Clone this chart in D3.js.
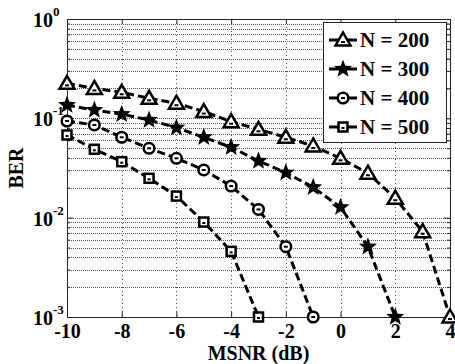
<!DOCTYPE html>
<head>
  <meta charset="utf-8">
  <script src="https://d3js.org/d3.v7.min.js"></script>
  <style>
    body { margin: 0; background: #fff; }
    text { font-family: "Liberation Serif", "Times New Roman", serif; font-weight: bold; fill: #000; }
    .grid { stroke: #555; stroke-width: 1; fill: none; }
    .curve { fill: none; stroke: #000; stroke-width: 3px; stroke-dasharray: 8,4; }
  </style>
</head>
<body>
  <script>
    // data
    var snr = [-10, -9, -8, -7, -6, -5, -4, -3, -2, -1, 0, 1, 2, 3, 4];
    var ber200 = [0.225, 0.200, 0.183, 0.159, 0.142, 0.117, 0.0925, 0.0776, 0.0645, 0.0527, 0.0396, 0.028, 0.0157, 0.00722, 0.001];
    var ber300 = [0.136, 0.121, 0.110, 0.0962, 0.0805, 0.0645, 0.0511, 0.0372, 0.0284, 0.0202, 0.0127, 0.0051, 0.001];
    var ber400 = [0.094, 0.0857, 0.0645, 0.0499, 0.0396, 0.0302, 0.0208, 0.0121, 0.0051, 0.001];
    var ber500 = [0.068, 0.0488, 0.0366, 0.0249, 0.0165, 0.00904, 0.00458, 0.001];
    var seriesNames = ["N = 200", "N = 300", "N = 400", "N = 500"];
    var markers = ["triangle", "star", "circle", "square"];
    var xTicks = [-10, -8, -6, -4, -2, 0, 2, 4];
    var yDecades = [-3, -2, -1, 0];

    var W = 455, H = 364;
    var mLeft = 67, mRight = 450, mTop = 19, mBottom = 317;

    var svg = d3.select("body").append("svg")
      .attr("width", W)
      .attr("height", H);

    var x = d3.scaleLinear().domain([-10, 4]).range([mLeft, mRight]);
    var y = d3.scaleLog().domain([1e-3, 1]).range([mBottom, mTop]);

    // minor values 2..9 per decade
    var minor = [];
    yDecades.slice(0, 3).forEach(function(e) {
      for (var k = 2; k <= 9; k++) minor.push(k * Math.pow(10, e));
    });
    var major = yDecades.map(function(e) { return Math.pow(10, e); });

    // grid
    var grid = svg.append("g");
    grid.selectAll(".hg").data(minor.concat(major.slice(1, 3))).enter().append("line")
      .attr("class", "grid")
      .attr("x1", mLeft).attr("x2", mRight)
      .attr("y1", function(d) { return Math.round(y(d)) + 0.5; })
      .attr("y2", function(d) { return Math.round(y(d)) + 0.5; })
      .style("stroke-dasharray", "1,1");
    grid.selectAll(".vg").data(xTicks.slice(1, -1)).enter().append("line")
      .attr("class", "grid")
      .attr("y1", mTop).attr("y2", mBottom)
      .attr("x1", function(d) { return Math.round(x(d)) + 0.5; })
      .attr("x2", function(d) { return Math.round(x(d)) + 0.5; })
      .style("stroke-dasharray", "1,3");

    // axes with inward ticks
    var xAxis = svg.append("g")
      .attr("transform", "translate(0," + mBottom + ")")
      .call(d3.axisBottom(x).tickValues(xTicks).tickSize(-5).tickPadding(7));
    xAxis.selectAll("text").style("font-size", "20px").text(function(d) { return d < 0 ? "-" + (-d) : d; });
    svg.append("g")
      .attr("transform", "translate(0," + mTop + ")")
      .call(d3.axisTop(x).tickValues(xTicks).tickSize(-5).tickFormat(""));

    svg.append("g")
      .attr("transform", "translate(" + mLeft + ",0)")
      .call(d3.axisLeft(y).tickValues(major).tickSize(-6).tickFormat(""));
    svg.append("g")
      .attr("transform", "translate(" + mLeft + ",0)")
      .call(d3.axisLeft(y).tickValues(minor).tickSize(-3).tickFormat(""));
    svg.append("g")
      .attr("transform", "translate(" + mRight + ",0)")
      .call(d3.axisRight(y).tickValues(major).tickSize(-6).tickFormat(""));
    svg.append("g")
      .attr("transform", "translate(" + mRight + ",0)")
      .call(d3.axisRight(y).tickValues(minor).tickSize(-3).tickFormat(""));
    svg.selectAll(".domain").attr("stroke", "#222");
    svg.selectAll(".tick line").attr("stroke", "#222");

    // y tick labels 10^k
    svg.selectAll(".ylab").data(yDecades).enter().append("text")
      .attr("class", "ylab")
      .attr("x", 53)
      .attr("y", function(d) { return y(Math.pow(10, d)) + 8; })
      .attr("text-anchor", "end")
      .style("font-size", "20px")
      .text("10");
    svg.selectAll(".ysup").data(yDecades).enter().append("text")
      .attr("class", "ysup")
      .attr("x", 53)
      .attr("y", function(d) { return y(Math.pow(10, d)) - 3; })
      .style("font-size", "13px")
      .text(function(d) { return d === 0 ? "0" : "-" + (-d); });

    // axis titles
    svg.append("text")
      .attr("x", (mLeft + mRight) / 2)
      .attr("y", 360)
      .attr("text-anchor", "middle")
      .style("font-size", "20px")
      .text("MSNR (dB)");
    svg.append("text")
      .attr("transform", "translate(23," + (mTop + mBottom) / 2 + ") rotate(-90)")
      .attr("text-anchor", "middle")
      .style("font-size", "20px")
      .text("BER");

    // markers
    function starPath(r1, r2) {
      var p = [];
      for (var i = 0; i < 10; i++) {
        var a = -Math.PI / 2 + i * Math.PI / 5;
        var r = i % 2 ? r2 : r1;
        p.push([r * Math.cos(a), r * Math.sin(a)]);
      }
      return "M" + p.join("L") + "Z";
    }
    function drawMarker(g, type) {
      if (type === "triangle") {
        g.append("path").attr("d", "M0,-7.5L7.5,5.5L-7.5,5.5Z")
          .attr("fill", "#fff").attr("stroke", "#000").attr("stroke-width", 2.5);
        g.append("line").attr("x1", -2).attr("x2", 2).attr("y1", 2).attr("y2", 2)
          .attr("stroke", "#000").attr("stroke-width", 2);
      } else if (type === "star") {
        g.append("path").attr("d", starPath(9.5, 4)).attr("fill", "#000");
      } else if (type === "circle") {
        g.append("circle").attr("r", 5.3)
          .attr("fill", "#fff").attr("stroke", "#000").attr("stroke-width", 2.5);
        g.append("line").attr("x1", -2).attr("x2", 2)
          .attr("stroke", "#000").attr("stroke-width", 2);
      } else {
        g.append("rect").attr("x", -4.5).attr("y", -4.5).attr("width", 9).attr("height", 9)
          .attr("fill", "#fff").attr("stroke", "#000").attr("stroke-width", 2.5);
        g.append("line").attr("x1", -1.5).attr("x2", 1.5).attr("y1", 1).attr("y2", 1)
          .attr("stroke", "#000").attr("stroke-width", 2);
      }
    }

    var allSeries = [ber200, ber300, ber400, ber500];
    var line = d3.line()
      .x(function(d, i) { return x(snr[i]); })
      .y(function(d) { return y(d); });

    allSeries.forEach(function(vals) {
      svg.append("path").datum(vals).attr("class", "curve").attr("d", line);
    });
    allSeries.forEach(function(vals, s) {
      vals.forEach(function(v, i) {
        var g = svg.append("g").attr("transform", "translate(" + x(snr[i]) + "," + y(v) + ")");
        drawMarker(g, markers[s]);
      });
    });

    // legend
    var lg = svg.append("g");
    lg.append("rect")
      .attr("x", 323.5).attr("y", 22.5).attr("width", 123).attr("height", 120)
      .attr("fill", "#fff").attr("stroke", "#222");
    seriesNames.forEach(function(name, i) {
      var yy = 40 + i * 29;
      lg.append("line").attr("x1", 329).attr("x2", 357).attr("y1", yy).attr("y2", yy)
        .attr("stroke", "#000").attr("stroke-width", 3);
      drawMarker(lg.append("g").attr("transform", "translate(343," + yy + ")"), markers[i]);
      lg.append("text").attr("x", 360).attr("y", yy + 7)
        .style("font-size", "21px")
        .text(name);
    });
  </script>
</body>
